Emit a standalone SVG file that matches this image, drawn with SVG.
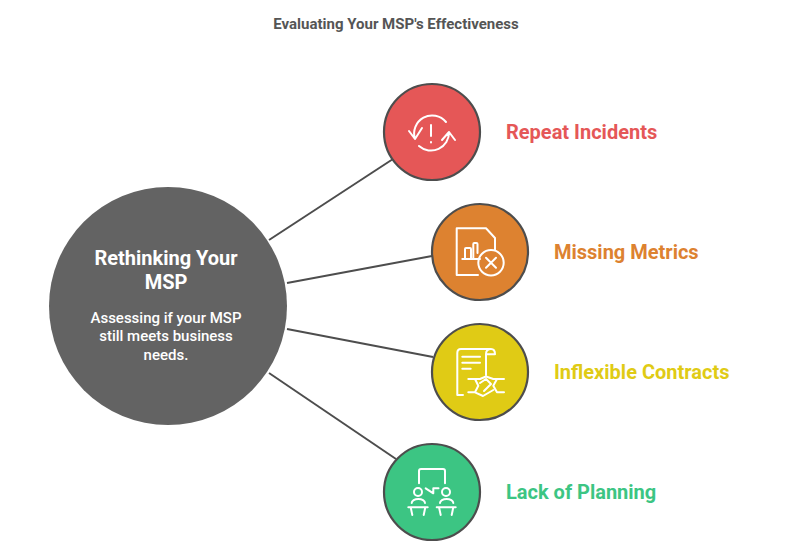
<svg xmlns="http://www.w3.org/2000/svg" width="792" height="547" viewBox="0 0 792 547">
<style>
text{font-family:Roboto,"Liberation Sans",sans-serif}
.title{font-size:15px;font-weight:700;fill:#555;text-anchor:middle}
.label{font-size:20px;font-weight:700}
.head{font-size:20px;font-weight:700;fill:#fff;text-anchor:middle}
.desc{font-size:15px;font-weight:500;fill:#fff;text-anchor:middle}
.node{stroke:#4d4d4d;stroke-width:2.2}
.ic{fill:none;stroke:#fff;stroke-width:2;stroke-linecap:round;stroke-linejoin:round}
.conn{stroke:#4d4d4d;stroke-width:2;fill:none}
</style>
<rect width="792" height="547" fill="#fff"/>
<text class="title" x="396" y="29">Evaluating Your MSP's Effectiveness</text>
<g id="connectors">
<path class="conn" d="M269 240L393 159"/>
<path class="conn" d="M287 283L432 256"/>
<path class="conn" d="M287 329L433 357"/>
<path class="conn" d="M269 373L396 459"/>
</g>
<g id="center">
<circle cx="168" cy="306" r="119" fill="#636363"/>
<text class="head" x="166" y="265">Rethinking Your</text>
<text class="head" x="166" y="289">MSP</text>
<text class="desc" x="166" y="323">Assessing if your MSP</text>
<text class="desc" x="166" y="341">still meets business</text>
<text class="desc" x="166" y="360">needs.</text>
</g>
<g id="repeat-incidents">
<circle class="node" cx="432" cy="132" r="48" fill="#e55757"/>
<path class="ic" d="M415 139A18 18 0 0 1 446 122M409 131L415 139L422 128M419 146A18 18 0 0 0 449 132M442 140L449 132L455 140M431 125V136M431 142V142.500"/>
<text class="label" x="506" y="139" fill="#e55757">Repeat Incidents</text>
</g>
<g id="missing-metrics">
<circle class="node" cx="480" cy="252" r="48" fill="#dd8230"/>
<path class="ic" d="M495 250V238L486 228.300H456.700V275H478M462.300 259H480M465 259V249Q465 248 466 248H470Q471 248 471 249V259M473.300 259V244Q473.300 243 474.300 243H476.500Q477.500 243 477.500 244V253"/>
<circle class="ic" cx="491" cy="262.700" r="12.700"/>
<path class="ic" d="M486 257.700L496 267.700M496 257.700L486 267.700"/>
<text class="label" x="554" y="259" fill="#dd8230">Missing Metrics</text>
</g>
<g id="inflexible-contracts">
<circle class="node" cx="480" cy="372" r="48" fill="#e0cb15"/>
<path class="ic" d="M463 395H457.300V353Q457.300 349 461 349H491Q495 349 495 354.300H486V375M486 354Q486 349 491 349M462.300 356.700H480M462.300 362.700H480M462.300 368.700H470.700M468.300 379H480L486 376.500L493.300 379H504M468.300 392.300H475M497 392.300H504M475 379L478.300 385.700L475 392.300L483 396L493.300 390M497 379L493.300 385.700L497 392.300M480 383L486 379L491 384L484 391"/>
<text class="label" x="554" y="379" fill="#e0cb15">Inflexible Contracts</text>
</g>
<g id="lack-of-planning">
<circle class="node" cx="432" cy="492" r="48" fill="#3cc583"/>
<path class="ic" d="M419 483.300V471Q419 469 421 469H443Q445 469 445 471V483.300M425.700 488.300L433.300 493.300V488.300M438.500 488.300H433.300M411.700 503A6.600 4 0 0 1 425 503M440 503A6.600 4 0 0 1 453.300 503M408.300 507.300H427.700M410.700 507.300L412.300 515M425.300 507.300L423.700 515M436.700 507.300H455.700M439 507.300L440.700 515M453.300 507.300L451.700 515"/>
<circle class="ic" cx="418" cy="492" r="4"/>
<circle class="ic" cx="446" cy="492" r="4"/>
<text class="label" x="506" y="499" fill="#3cc583">Lack of Planning</text>
</g>
</svg>
